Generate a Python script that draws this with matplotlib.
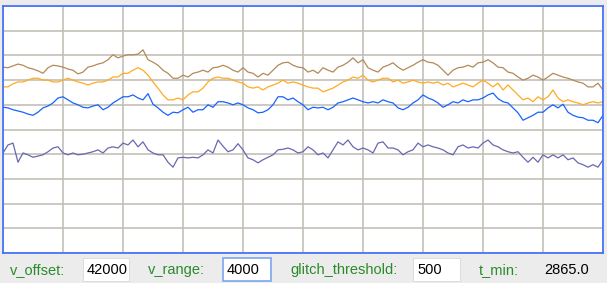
import numpy as np
import matplotlib.pyplot as plt
from matplotlib.patches import Rectangle

# parametros da janela
v_offset = 42000
v_range = 4000
glitch_threshold = 500
t_min = 2865.0
dt = 0.05

# leituras (amostradas) das quatro curvas
brown = [45010, 45000, 45030, 45060, 45040, 45000, 44980, 44950, 44910, 45000,
         45040, 45030, 45010, 44980, 44960, 44900, 44930, 45010, 45030, 45060,
         45080, 45130, 45210, 45160, 45190, 45210, 45210, 45220, 45290, 45130,
         45090, 45040, 44960, 44910, 44830, 44830, 44880, 44850, 44910, 44930,
         44960, 44930, 45000, 45010, 45040, 45010, 44960, 44930, 45000, 44930,
         44910, 44850, 44910, 44880, 44960, 45040, 45080, 45090, 45040, 45010,
         45000, 44930, 44960, 44910, 45000, 44960, 44930, 45010, 45040, 45090,
         45160, 45080, 45130, 45000, 44960, 44930, 45010, 45040, 45080, 45010,
         44960, 45000, 45040, 45090, 45130, 45090, 45080, 45040, 44960, 44880,
         44960, 45000, 45010, 45040, 45010, 45080, 45090, 45130, 45080, 45010,
         45000, 44930, 44910, 44850, 44800, 44830, 44880, 44850, 44800, 44850,
         44910, 44880, 44850, 44830, 44800, 44770, 44750, 44690, 44690, 44750,
         44640]

orange = [44690, 44690, 44740, 44770, 44770, 44800, 44830, 44830, 44800, 44800,
          44770, 44770, 44800, 44830, 44800, 44770, 44750, 44720, 44750, 44770,
          44770, 44800, 44850, 44850, 44910, 44910, 44960, 45000, 44960, 44880,
          44770, 44670, 44560, 44480, 44480, 44510, 44480, 44560, 44610, 44610,
          44670, 44770, 44830, 44850, 44830, 44830, 44800, 44770, 44750, 44690,
          44670, 44690, 44640, 44690, 44720, 44750, 44800, 44750, 44770, 44750,
          44720, 44690, 44670, 44670, 44610, 44640, 44670, 44720, 44770, 44800,
          44850, 44830, 44880, 44800, 44770, 44800, 44830, 44830, 44770, 44800,
          44750, 44770, 44800, 44770, 44750, 44770, 44750, 44770, 44720, 44750,
          44690, 44720, 44750, 44720, 44690, 44750, 44800, 44750, 44690, 44750,
          44640, 44720, 44640, 44560, 44480, 44510, 44450, 44530, 44480, 44530,
          44640, 44510, 44450, 44480, 44450, 44430, 44400, 44430, 44450, 44430,
          44450]

blue = [44360, 44350, 44320, 44300, 44280, 44250, 44230, 44280, 44350, 44380,
        44430, 44510, 44530, 44480, 44430, 44400, 44360, 44350, 44380, 44400,
        44320, 44360, 44430, 44480, 44530, 44530, 44560, 44510, 44480, 44580,
        44410, 44350, 44280, 44230, 44280, 44270, 44320, 44360, 44280, 44320,
        44320, 44400, 44360, 44450, 44450, 44430, 44400, 44430, 44400, 44350,
        44320, 44270, 44280, 44320, 44400, 44530, 44530, 44480, 44510, 44450,
        44400, 44320, 44360, 44350, 44360, 44320, 44360, 44430, 44450, 44480,
        44510, 44480, 44450, 44430, 44450, 44430, 44480, 44450, 44430, 44350,
        44320, 44360, 44430, 44480, 44560, 44510, 44480, 44430, 44360, 44400,
        44450, 44430, 44480, 44450, 44480, 44480, 44510, 44560, 44590, 44500,
        44450, 44430, 44350, 44270, 44150, 44190, 44230, 44280, 44280, 44350,
        44400, 44350, 44410, 44280, 44230, 44200, 44190, 44150, 44150, 44110,
        44230]

purple = [43620, 43750, 43780, 43470, 43620, 43590, 43550, 43570, 43590, 43640,
          43700, 43720, 43620, 43590, 43620, 43590, 43600, 43620, 43640, 43670,
          43620, 43700, 43720, 43700, 43780, 43750, 43830, 43720, 43800, 43670,
          43620, 43590, 43590, 43470, 43390, 43540, 43550, 43540, 43550, 43540,
          43590, 43670, 43620, 43830, 43730, 43640, 43670, 43770, 43670, 43540,
          43510, 43460, 43510, 43550, 43590, 43670, 43680, 43700, 43670, 43620,
          43640, 43720, 43670, 43590, 43620, 43540, 43670, 43800, 43750, 43830,
          43720, 43670, 43700, 43670, 43620, 43780, 43800, 43700, 43700, 43670,
          43590, 43640, 43670, 43780, 43720, 43750, 43720, 43700, 43670, 43620,
          43590, 43720, 43750, 43700, 43720, 43700, 43780, 43830, 43750, 43720,
          43670, 43640, 43620, 43640, 43550, 43470, 43550, 43470, 43590, 43540,
          43590, 43540, 43590, 43510, 43540, 43460, 43430, 43390, 43430, 43390,
          43510]

series = [
    (brown, "#b38a58"),
    (orange, "#ffaa22"),
    (blue, "#1763ff"),
    (purple, "#6868b0"),
]

t = t_min + dt * np.arange(len(brown))

W, H = 607, 283
fig = plt.figure(figsize=(W / 100, H / 100), dpi=100)
fig.patch.set_facecolor("#ececec")

# area do grafico (pixels: x 3..603, y 6..253)
ax = fig.add_axes([3 / W, 1 - 253 / H, 600 / W, 247 / H])
ax.set_facecolor("white")

for valores, cor in series:
    ax.plot(t, valores, color=cor, linewidth=0.9)

ax.set_xlim(t[0], t[-1])
ax.set_ylim(v_offset, v_offset + v_range)
ax.set_xticks(np.linspace(t[0], t[-1], 11))
ax.set_yticks(np.linspace(v_offset, v_offset + v_range, 11))
ax.grid(True, color="#c2c0b6", linewidth=1.2)
ax.tick_params(length=0, labelbottom=False, labelleft=False)
for lado in ax.spines.values():
    lado.set_color("#3d6cff")
    lado.set_linewidth(1.2)

# barra inferior com os controles
verde = "#2b8a2b"
fonte = dict(family=["Liberation Sans", "DejaVu Sans"], fontsize=10.5, va="center")
ytxt = 1 - 270 / H

rotulos = [("v_offset:", 10), ("v_range:", 148),
           ("glitch_threshold:", 290), ("t_min:", 479)]
for texto, x in rotulos:
    fig.text(x / W, ytxt, texto, color=verde, **fonte)

caixas = [(str(v_offset), 83, 46, "#d8d8d8"),
          (str(v_range), 223, 48, "#7aa7f0"),
          (str(glitch_threshold), 413, 47, "#d8d8d8")]
for texto, x, w, borda in caixas:
    fig.add_artist(Rectangle((x / W, 1 - 281 / H), w / W, 23 / H,
                             transform=fig.transFigure, facecolor="white",
                             edgecolor=borda, linewidth=1.2 if borda != "#d8d8d8" else 0.6))
    fig.text((x + 4) / W, ytxt, texto, color="black", **fonte)

fig.text(544 / W, ytxt, f"{t_min:.1f}", color="black", **fonte)

fig.savefig("out.png", dpi=100, facecolor=fig.get_facecolor())
